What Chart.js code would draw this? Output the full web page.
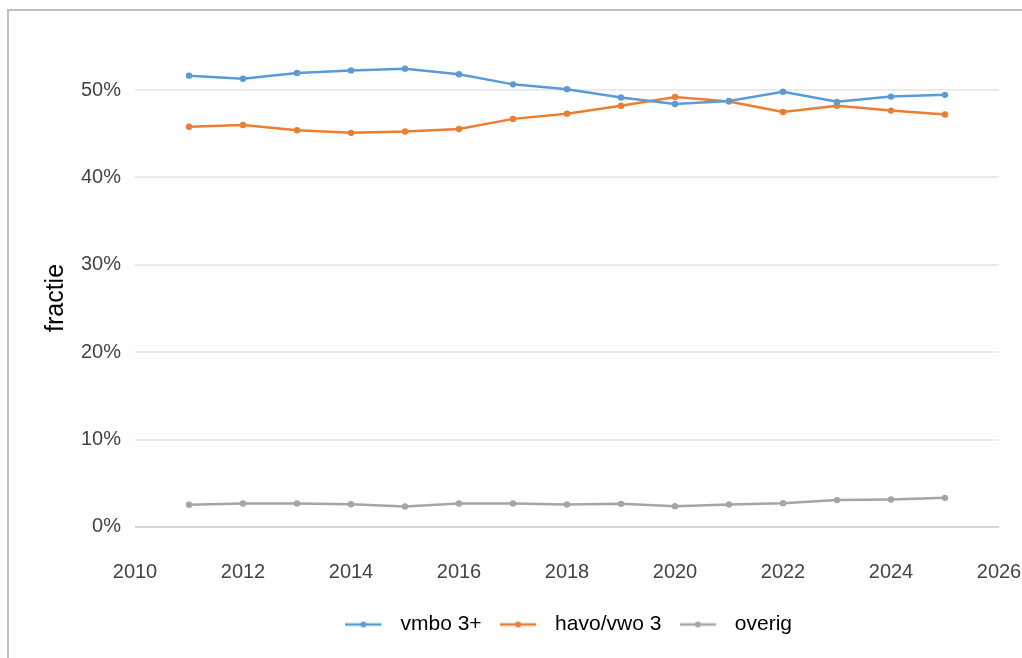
<!DOCTYPE html>
<html>
<head>
<meta charset="utf-8">
<script src="https://cdn.jsdelivr.net/npm/chart.js@4/dist/chart.umd.min.js"></script>
<style>
	body { margin: 0; background: #fff; }
	#wrap { position: relative; width: 1022px; height: 658px; overflow: hidden; }
	#frame { position: absolute; left: 7px; top: 9px; width: 1100px; height: 700px;
		border-left: 2px solid #bfbfbf; border-top: 2px solid #bfbfbf; }
	#chart { position: absolute; left: 0; top: 0; }
</style>
</head>
<body>
<div id="wrap">
	<div id="frame"></div>
	<canvas id="chart" width="1022" height="658"></canvas>
</div>
<script>
/* data */
var years = [2011, 2012, 2013, 2014, 2015, 2016, 2017, 2018, 2019, 2020, 2021, 2022, 2023, 2024, 2025];
var vmbo = [0.5165, 0.513, 0.5195, 0.5225, 0.5245, 0.518, 0.5065, 0.501, 0.4915, 0.484, 0.4875, 0.498, 0.4865, 0.4925, 0.4945];
var havo = [0.458, 0.46, 0.454, 0.451, 0.4525, 0.4555, 0.467, 0.473, 0.482, 0.492, 0.487, 0.475, 0.482, 0.4765, 0.472];
var overig = [0.0253, 0.0268, 0.0268, 0.026, 0.0233, 0.0268, 0.0268, 0.0256, 0.0264, 0.0238, 0.0256, 0.0272, 0.0307, 0.0314, 0.0333];
var seriesNames = ['vmbo 3+', 'havo/vwo 3', 'overig'];
var seriesColors = ['#5b9bd5', '#ed7d31', '#a5a5a5'];
var xTicks = [2010, 2012, 2014, 2016, 2018, 2020, 2022, 2024, 2026];
var yTicks = [0, 0.1, 0.2, 0.3, 0.4, 0.5];

function toPoints(arr) {
	return years.map(function(y, i) { return { x: y, y: arr[i] }; });
}

// legend sample: line with dot
function legendIcon(color) {
	var c = document.createElement('canvas');
	c.width = 41; c.height = 10;
	var g = c.getContext('2d');
	g.strokeStyle = color;
	g.lineWidth = 2.5;
	g.beginPath(); g.moveTo(0, 5); g.lineTo(36, 5); g.stroke();
	g.fillStyle = color;
	g.beginPath(); g.arc(18, 5, 3, 0, Math.PI * 2); g.fill();
	return c;
}

var allSeries = [vmbo, havo, overig];
var datasets = allSeries.map(function(arr, i) {
	return {
		label: seriesNames[i],
		data: toPoints(arr),
		borderColor: seriesColors[i],
		backgroundColor: seriesColors[i],
		borderWidth: 2.5,
		pointRadius: 3.2,
		pointBorderWidth: 0,
		tension: 0
	};
});

var tickFont = { family: 'Liberation Sans, Arial, sans-serif', size: 20 };

new Chart(document.getElementById('chart'), {
	type: 'line',
	data: { datasets: datasets },
	options: {
		responsive: false,
		animation: false,
		layout: { padding: { left: 0, right: 23, top: 51.6, bottom: 13 } },
		plugins: {
			tooltip: { enabled: false },
			legend: {
				position: 'bottom',
				fullSize: false,
				labels: {
					font: { family: 'Liberation Sans, Arial, sans-serif', size: 21 },
					color: '#000',
					usePointStyle: true,
					pointStyleWidth: 48,
					padding: 15,
					generateLabels: function(chart) {
						var items = Chart.defaults.plugins.legend.labels.generateLabels(chart);
						items.forEach(function(it, i) { it.pointStyle = legendIcon(seriesColors[i]); });
						return items;
					}
				}
			}
		},
		scales: {
			x: {
				type: 'linear',
				min: 2010,
				max: 2026,
				afterBuildTicks: function(s) { s.ticks = xTicks.map(function(v) { return { value: v }; }); },
				afterFit: function(s) { s.height = 54.6; s.paddingLeft = 0; s.paddingRight = 0; },
				grid: { display: false },
				border: { display: false },
				ticks: {
					font: tickFont,
					color: '#444',
					padding: 8,
					maxRotation: 0,
					callback: function(v) { return String(v); }
				}
			},
			y: {
				min: -0.02,
				max: 0.544,
				afterBuildTicks: function(s) { s.ticks = yTicks.map(function(v) { return { value: v }; }); },
				afterFit: function(s) { s.width = 135; },
				grid: {
					color: function(ctx) { return ctx.tick && ctx.tick.value === 0 ? '#d6d6d6' : '#ebebeb'; },
					lineWidth: 2,
					drawTicks: false
				},
				border: { display: false },
				ticks: {
					font: tickFont,
					color: '#444',
					padding: 14,
					callback: function(v) { return Math.round(v * 100) + '%'; }
				},
				title: {
					display: true,
					text: 'fractie',
					color: '#000',
					font: { family: 'Liberation Sans, Arial, sans-serif', size: 25 },
					padding: { top: 41, bottom: 0 }
				}
			}
		}
	}
});
</script>
</body>
</html>
